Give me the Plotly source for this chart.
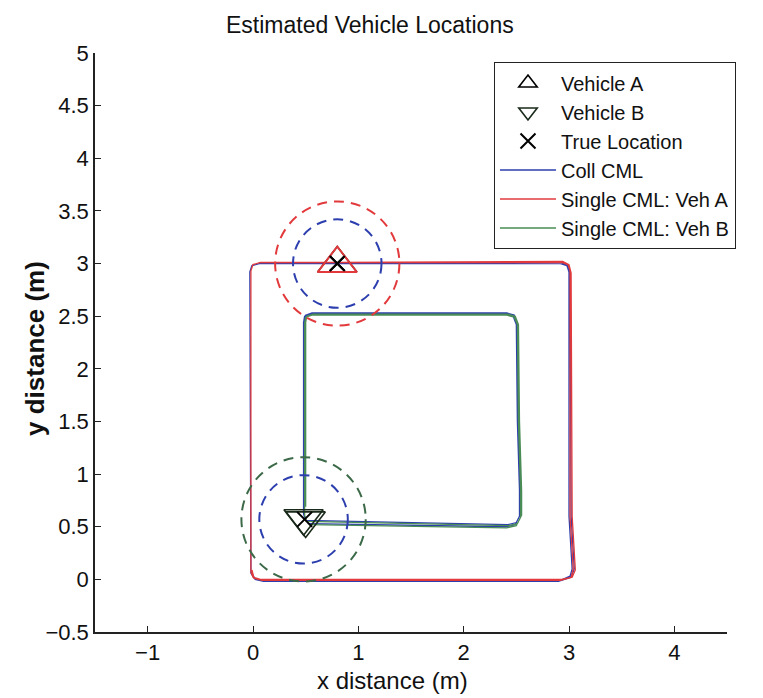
import plotly.graph_objects as go

# ---- Estimated vehicle positions ----
veh_a_x = [0.80]
veh_a_y = [3.00]
veh_b_x = [0.48, 0.50]
veh_b_y = [0.58, 0.56]
true_x = [0.80, 0.49]
true_y = [3.00, 0.57]

# ---- Uncertainty circles: centre x, centre y, radius ----
circ_coll_a = (0.80, 3.00, 0.42)
circ_single_a = (0.80, 3.00, 0.59)
circ_coll_b = (0.48, 0.57, 0.42)
circ_single_b = (0.48, 0.57, 0.59)

# ---- Trajectories (waypoints) ----
coll_a_x = [0.80, 2.92, 2.98, 3.00, 3.00, 3.02, 3.03, 3.01, 2.92, 0.08, 0.01, -0.02, -0.03, -0.01, 0.06, 0.80,
            2.93, 2.99, 3.01, 3.02, 3.04, 3.05, 3.02, 2.90, 0.10, 0.02, -0.02]
coll_a_y = [3.00, 3.00, 2.98, 2.92, 0.60, 0.25, 0.10, 0.03, -0.01, -0.01, 0.01, 0.06, 2.92, 2.98, 3.00, 3.00,
            3.01, 2.98, 2.90, 0.60, 0.25, 0.10, 0.02, -0.02, -0.02, 0.00, 0.08]
single_a_x = [0.80, 2.93, 2.99, 3.01, 3.01, 3.03, 3.04, 3.02, 2.93, 0.07, 0.00, -0.02, -0.02, 0.00, 0.07, 0.80,
              2.94, 3.00, 3.02, 3.03, 3.05, 3.06, 3.03, 2.92, 0.09, 0.01, -0.01]
single_a_y = [3.01, 3.01, 2.99, 2.93, 0.60, 0.25, 0.10, 0.02, 0.00, 0.00, 0.02, 0.07, 2.93, 2.99, 3.01, 3.01,
              3.02, 2.99, 2.91, 0.60, 0.24, 0.09, 0.02, -0.01, -0.01, 0.01, 0.09]

coll_b_x = [0.52, 2.40, 2.49, 2.53, 2.53, 2.51, 2.50, 2.47, 2.40, 0.55, 0.49, 0.48, 0.48,
            0.50, 2.42, 2.50, 2.54, 2.54, 2.52, 2.51, 2.48, 2.41, 0.56, 0.50, 0.49, 0.49]
coll_b_y = [0.53, 0.50, 0.52, 0.60, 0.85, 1.50, 2.42, 2.50, 2.52, 2.52, 2.50, 2.44, 0.62,
            0.56, 0.52, 0.54, 0.62, 0.85, 1.50, 2.42, 2.51, 2.53, 2.53, 2.51, 2.45, 0.70]
single_b_x = [0.53, 2.41, 2.50, 2.54, 2.54, 2.52, 2.51, 2.48, 2.41, 0.56, 0.50, 0.49, 0.49,
              0.51, 2.43, 2.51, 2.55, 2.55, 2.53, 2.52, 2.49, 2.42, 0.57, 0.51, 0.50, 0.50]
single_b_y = [0.52, 0.49, 0.51, 0.59, 0.84, 1.50, 2.42, 2.49, 2.51, 2.51, 2.49, 2.43, 0.61,
              0.55, 0.51, 0.53, 0.61, 0.84, 1.50, 2.42, 2.50, 2.52, 2.52, 2.50, 2.44, 0.69]

# ---- Axis ticks ----
x_ticks = [-1, 0, 1, 2, 3, 4]
x_ticktext = ["\u22121", "0", "1", "2", "3", "4"]
y_ticks = [-0.5, 0, 0.5, 1, 1.5, 2, 2.5, 3, 3.5, 4, 4.5, 5]
y_ticktext = ["\u22120.5", "0", "0.5", "1", "1.5", "2", "2.5", "3", "3.5", "4", "4.5", "5"]

BLUE = "#2d3fae"
RED = "#e23a3c"
GREEN = "#4a8c55"
DKGREEN = "#3c6a48"
FONT = "Liberation Sans, Arial, sans-serif"

fig = go.Figure()

# trajectories
fig.add_trace(go.Scatter(x=coll_a_x, y=coll_a_y, mode="lines", line=dict(color=BLUE, width=1.3),
                         showlegend=False, hoverinfo="skip"))
fig.add_trace(go.Scatter(x=single_a_x, y=single_a_y, mode="lines", line=dict(color=RED, width=1.3),
                         showlegend=False, hoverinfo="skip"))
fig.add_trace(go.Scatter(x=coll_b_x, y=coll_b_y, mode="lines", line=dict(color=BLUE, width=1.3),
                         showlegend=False, hoverinfo="skip"))
fig.add_trace(go.Scatter(x=single_b_x, y=single_b_y, mode="lines", line=dict(color=GREEN, width=1.3),
                         showlegend=False, hoverinfo="skip"))

# vehicle markers (legend entries)
fig.add_trace(go.Scatter(x=veh_a_x, y=veh_a_y, mode="markers", name="Vehicle A",
                         marker=dict(symbol="triangle-up-open", size=34, color="black",
                                     line=dict(width=1.6, color="black"))))
fig.add_trace(go.Scatter(x=veh_b_x, y=veh_b_y, mode="markers", name="Vehicle B",
                         marker=dict(symbol="triangle-down-open", size=34, color="#1a2a1a",
                                     line=dict(width=1.6, color="#1a2a1a"))))
fig.add_trace(go.Scatter(x=true_x, y=true_y, mode="markers", name="True Location",
                         marker=dict(symbol="x-thin-open", size=15, color="black",
                                     line=dict(width=2, color="black"))))
# Vehicle A drawn in red on the plot
fig.add_trace(go.Scatter(x=veh_a_x, y=veh_a_y, mode="markers", showlegend=False, hoverinfo="skip",
                         marker=dict(symbol="triangle-up-open", size=34, color=RED,
                                     line=dict(width=1.9, color=RED))))
fig.add_trace(go.Scatter(x=true_x[:1], y=true_y[:1], mode="markers", showlegend=False, hoverinfo="skip",
                         marker=dict(symbol="x-thin-open", size=15, color="black",
                                     line=dict(width=2, color="black"))))

# line legend entries
for nm, col in [("Coll CML", BLUE), ("Single CML: Veh A", RED), ("Single CML: Veh B", GREEN)]:
    fig.add_trace(go.Scatter(x=[None], y=[None], mode="lines", name=nm,
                             line=dict(color=col, width=1.6)))

# dashed uncertainty circles
for (cx, cy, r), col in [(circ_single_a, RED), (circ_coll_a, BLUE),
                         (circ_single_b, DKGREEN), (circ_coll_b, BLUE)]:
    fig.add_shape(type="circle", xref="x", yref="y",
                  x0=cx - r, x1=cx + r, y0=cy - r, y1=cy + r,
                  line=dict(color=col, width=2, dash="10px,7px"))

axis_common = dict(showgrid=False, zeroline=False, showline=True, linecolor="#222",
                   linewidth=1.5, ticks="inside", ticklen=6, tickcolor="#222", mirror=False,
                   tickfont=dict(family=FONT, size=22, color="#111"))
fig.update_xaxes(range=[-1.5, 4.5], tickvals=x_ticks, ticktext=x_ticktext, **axis_common)
fig.update_yaxes(range=[-0.5, 5], tickvals=y_ticks, ticktext=y_ticktext, **axis_common)

fig.update_layout(
    width=763, height=698,
    margin=dict(l=95, r=36, t=53, b=66),
    paper_bgcolor="white", plot_bgcolor="white",
    font=dict(family=FONT, color="#111"),
    legend=dict(x=0.631, y=0.984, xanchor="left", yanchor="top",
                bgcolor="white", bordercolor="#222", borderwidth=1.2,
                font=dict(family=FONT, size=20, color="#111"),
                itemwidth=56, tracegroupgap=0),
    annotations=[
        dict(text="Estimated Vehicle Locations", xref="paper", yref="paper",
             x=0.435, y=1.048, xanchor="center", yanchor="middle", showarrow=False,
             font=dict(family=FONT, size=23, color="#111")),
        dict(text="x distance (m)", xref="paper", yref="paper",
             x=0.4715, y=-0.083, xanchor="center", yanchor="middle", showarrow=False,
             font=dict(family=FONT, size=24, color="#111")),
        dict(text="<b>y distance (m)</b>", xref="paper", yref="paper", textangle=-90,
             x=-0.095, y=0.4905, xanchor="center", yanchor="middle", showarrow=False,
             font=dict(family=FONT, size=26, color="#111")),
    ],
)

fig.write_html("out.html")
